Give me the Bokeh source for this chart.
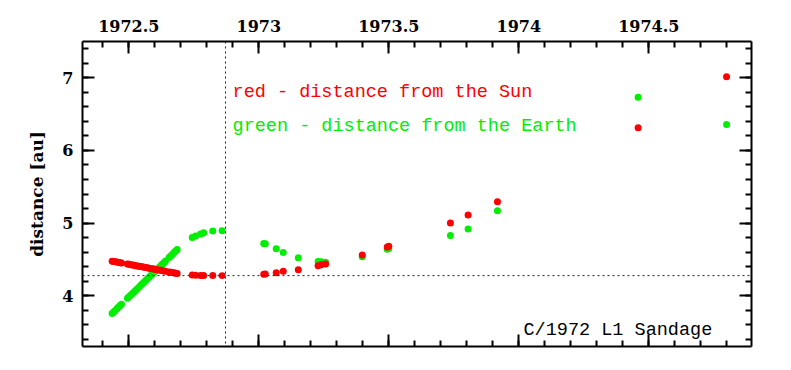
from bokeh.plotting import figure
from bokeh.models import (LinearAxis, SingleIntervalTicker, NumeralTickFormatter,
                          Span, Label, Range1d, ColumnDataSource)
from bokeh.embed import file_html
from bokeh.resources import INLINE

# ---- data ----
epoch = [1972.436, 1972.442, 1972.448, 1972.455, 1972.461, 1972.467, 1972.472,
         1972.495, 1972.501, 1972.508, 1972.514, 1972.521, 1972.527, 1972.533,
         1972.540, 1972.546, 1972.552, 1972.559, 1972.565, 1972.571, 1972.578,
         1972.584, 1972.590, 1972.597, 1972.603, 1972.609, 1972.616, 1972.622,
         1972.628, 1972.635, 1972.641, 1972.655, 1972.661, 1972.667, 1972.674,
         1972.680, 1972.686,
         1972.744, 1972.757, 1972.776, 1972.788, 1972.823, 1972.859,
         1973.019, 1973.025, 1973.067, 1973.094, 1973.152, 1973.228, 1973.240,
         1973.257, 1973.398, 1973.494, 1973.500, 1973.737, 1973.805, 1973.918,
         1974.459, 1974.799]

r_sun = [4.475, 4.471, 4.467, 4.462, 4.458, 4.454, 4.451,
         4.435, 4.431, 4.426, 4.422, 4.418, 4.413, 4.409,
         4.405, 4.401, 4.397, 4.392, 4.388, 4.384, 4.379,
         4.375, 4.371, 4.366, 4.362, 4.358, 4.353, 4.349,
         4.345, 4.340, 4.336, 4.327, 4.323, 4.319, 4.314,
         4.310, 4.306,
         4.283, 4.281, 4.279, 4.278, 4.277, 4.276,
         4.296, 4.297, 4.317, 4.335, 4.358, 4.413, 4.425,
         4.437, 4.561, 4.670, 4.680, 5.001, 5.112, 5.295,
         6.311, 7.014]

delta_earth = [3.755, 3.776, 3.797, 3.822, 3.843, 3.864, 3.882,
               3.963, 3.984, 4.008, 4.030, 4.054, 4.075, 4.096,
               4.121, 4.142, 4.163, 4.188, 4.209, 4.230, 4.255,
               4.276, 4.297, 4.322, 4.343, 4.364, 4.389, 4.410,
               4.431, 4.455, 4.477, 4.526, 4.547, 4.568, 4.593,
               4.614, 4.635,
               4.800, 4.820, 4.850, 4.865, 4.890, 4.893,
               4.720, 4.715, 4.647, 4.596, 4.523, 4.472, 4.466,
               4.459, 4.537, 4.640, 4.650, 4.830, 4.919, 5.171,
               6.733, 6.356]

perihelion_q = 4.276
perihelion_t = 1972.872

src = ColumnDataSource(dict(t=epoch, r=r_sun, d=delta_earth))

FONT = "DejaVu Serif"
MONO = "Liberation Mono"

p = figure(frame_width=669, frame_height=305,
           x_range=Range1d(1972.322, 1974.895), y_range=Range1d(3.30, 7.50),
           output_backend="svg", toolbar_location=None,
           min_border_left=82, min_border_top=41, min_border_right=17,
           min_border_bottom=12, background_fill_color="white",
           border_fill_color="white")
p.outline_line_color = None
p.grid.visible = False

xt = SingleIntervalTicker(interval=0.5, num_minor_ticks=5)
yt = SingleIntervalTicker(interval=1, num_minor_ticks=5)


def style(ax, labels):
    ax.axis_line_width = 2
    ax.axis_line_color = "black"
    ax.major_tick_in = 12
    ax.major_tick_out = 0
    ax.minor_tick_in = 6
    ax.minor_tick_out = 0
    ax.major_tick_line_width = 2
    ax.minor_tick_line_width = 2
    ax.major_tick_line_color = "black"
    ax.minor_tick_line_color = "black"
    if labels:
        ax.major_label_text_font = FONT
        ax.major_label_text_font_style = "bold"
        ax.major_label_text_font_size = "16px"
        ax.major_label_text_color = "black"
    else:
        ax.major_label_text_font_size = "0px"
        ax.major_label_text_alpha = 0


# bottom axis (no labels)
bx = p.xaxis[0]
bx.ticker = xt
style(bx, False)

# left axis
ly = p.yaxis[0]
ly.ticker = yt
style(ly, True)
ly.major_label_standoff = 9
ly.axis_label = "distance [au]"
ly.axis_label_text_font = FONT
ly.axis_label_text_font_style = "bold"
ly.axis_label_text_font_size = "17px"
ly.axis_label_text_color = "black"
ly.axis_label_standoff = 12

# top axis
tx = LinearAxis(ticker=xt, formatter=NumeralTickFormatter(format="0.[0]"))
style(tx, True)
tx.major_label_standoff = 10
p.add_layout(tx, "above")

# right axis
ry = LinearAxis(ticker=yt)
style(ry, False)
p.add_layout(ry, "right")

# reference lines
p.add_layout(Span(location=perihelion_q, dimension="width", line_color="#222222",
                  line_width=1, line_dash="2 3"))
p.add_layout(Span(location=perihelion_t, dimension="height", line_color="#222222",
                  line_width=1, line_dash="2 3"))

p.scatter("t", "d", source=src, size=7, color="#00ee00", line_color=None)
p.scatter("t", "r", source=src, size=7, color="#ff0000", line_color=None)

p.add_layout(Label(x=1972.899, y=6.793, text="red - distance from the Sun",
                   text_font=MONO, text_font_size="18.5px", text_color="#ff0000",
                   text_baseline="alphabetic"))
p.add_layout(Label(x=1972.899, y=6.335, text="green - distance from the Earth",
                   text_font=MONO, text_font_size="18.5px", text_color="#00ee00",
                   text_baseline="alphabetic"))
p.add_layout(Label(x=1974.744, y=3.52, text="C/1972 L1 Sandage",
                   text_font=MONO, text_font_size="18.5px", text_color="black",
                   text_align="right", text_baseline="alphabetic"))

open("out.html", "w").write(file_html(p, INLINE))
